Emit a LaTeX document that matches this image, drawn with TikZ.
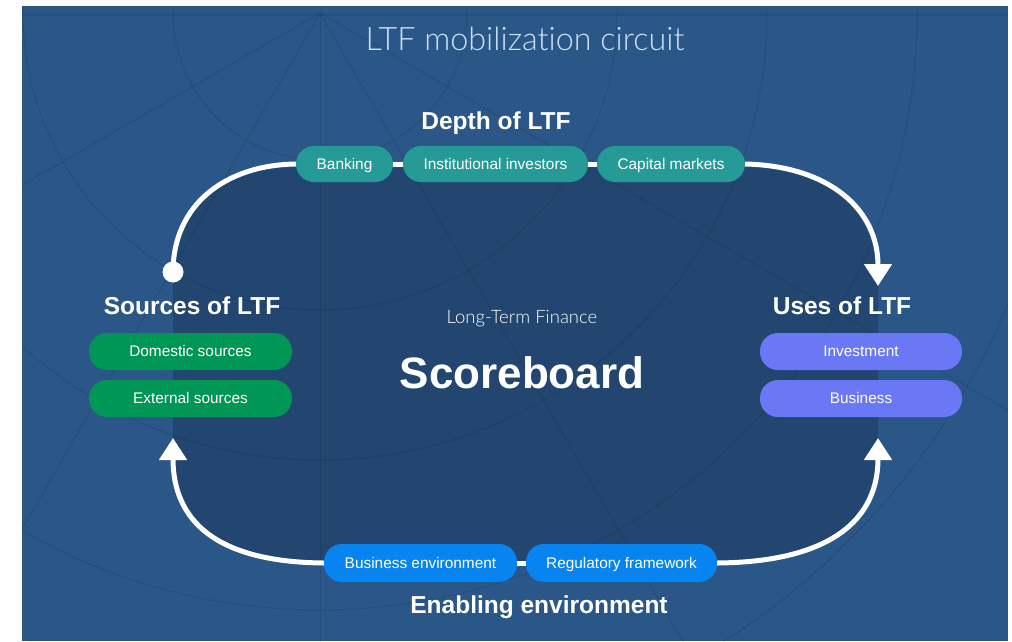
\documentclass[tikz,border=0pt]{standalone}
\usepackage{fontspec}
\setmainfont{Liberation Sans}
\def\titlesize{31.2}\def\ltfsize{17.2}
\IfFontExistsTF{Lato Light}{\newfontfamily\thinfont{Lato Light}[Ligatures=NoCommon]\def\titlesize{32.3}\def\ltfsize{18.5}}{%
  \IfFontExistsTF{Poppins Light}{\newfontfamily\thinfont{Poppins Light}\def\titlesize{28.8}\def\ltfsize{15.7}}{%
    \newfontfamily\thinfont{Liberation Sans}}}
\usetikzlibrary{arrows.meta}
\definecolor{bgblue}{RGB}{42,86,136}
\definecolor{innerblue}{RGB}{34,70,112}
\definecolor{tealc}{RGB}{38,154,150}
\definecolor{greenc}{RGB}{0,150,85}
\definecolor{purplec}{RGB}{106,120,245}
\definecolor{bluec}{RGB}{8,132,240}
\definecolor{titlec}{RGB}{205,226,245}
\tikzset{
  pill/.style={rounded corners=18pt, minimum height=36pt, inner sep=0pt, text=white,
    font=\fontsize{15.4}{15.4}\selectfont, text height=10.8pt, text depth=0pt, anchor=center},
  tealpill/.style={pill, fill=tealc},
  greenpill/.style={pill, fill=greenc, minimum width=203pt, minimum height=37pt},
  purplepill/.style={pill, fill=purplec, minimum width=202pt, minimum height=37pt},
  bluepill/.style={pill, fill=bluec, minimum height=38pt},
  head/.style={text=white, font=\bfseries\fontsize{24.5}{24.5}\selectfont, anchor=base, inner sep=0pt},
  loopline/.style={white, line width=5pt},
  tip/.style={-{Triangle[width=27pt,length=22pt]}},
  gridline/.style={black, opacity=0.09, line width=1pt}
}
\begin{document}
\begin{tikzpicture}[x=1pt,y=-1pt]
\useasboundingbox (0,0) rectangle (1012,641);
\fill[white] (0,0) rectangle (1012,641);
\fill[bgblue] (22,6) rectangle (1008,641);
% inner dark region
\fill[innerblue] (173,461) -- (173,272) .. controls (173,205) and (225,165) .. (296,165)
  -- (745,165) .. controls (830,166) and (878,210) .. (878,285) -- (878,438)
  .. controls (878,520) and (830,562) .. (717,563) -- (324,563)
  .. controls (215,562) and (173,520) .. (173,438) -- cycle;
% background grid
\begin{scope}
\clip (22,6) rectangle (1008,641);
\coordinate (C) at (320,13);
\foreach \r in {147,297,447,597,747} \draw[gridline] (C) circle[radius=\r pt];
\foreach \a in {0,30,60,90,120,150,180} \draw[gridline] (C) -- ++(\a:1300);
\draw[gridline] (22,15) -- (1008,15);
\end{scope}
% title
\node[text=titlec, font=\thinfont\fontsize{\titlesize}{\titlesize}\selectfont, anchor=base, inner sep=0pt] (title) at (525,50) {LTF mobilization circuit};
% headers
\node[head] (depth) at (496,129) {Depth of LTF};
\node[head] (sources) at (192,314) {Sources of LTF};
\node[head] (uses) at (842,314) {Uses of LTF};
\node[head] (enabling) at (539,613) {Enabling environment};
% center
\node[text=white, font=\thinfont\fontsize{\ltfsize}{\ltfsize}\selectfont, anchor=base, inner sep=0pt] (ltf) at (522,323) {Long-Term Finance};
\node[text=white, font=\bfseries\fontsize{44}{44}\selectfont, anchor=base, inner sep=0pt] (score) at (522,388) {Scoreboard};
% pills
\node[tealpill, minimum width=97pt] (bank) at (344.5,164) {Banking};
\node[tealpill, minimum width=185pt] (inst) at (495.5,164) {Institutional investors};
\node[tealpill, minimum width=148pt] (cap) at (671,164) {Capital markets};
\node[greenpill] (dom) at (190.5,351.5) {Domestic sources};
\node[greenpill] (ext) at (190.5,398.5) {External sources};
\node[purplepill] (inv) at (861,351.5) {Investment};
\node[purplepill] (bus) at (861,398.5) {Business};
\node[bluepill, minimum width=193pt] (benv) at (420.5,563) {Business environment};
\node[bluepill, minimum width=191pt] (reg) at (621.5,563) {Regulatory framework};
% loop
\coordinate (S) at (173,272);
\coordinate (T1) at (878,286);
\coordinate (T2) at (878,438);
\coordinate (T3) at (173,438);
\draw[loopline] (S) .. controls (173,205) and (225,165) .. (bank.west);
\draw[loopline] (bank.east) -- (inst.west);
\draw[loopline] (inst.east) -- (cap.west);
\draw[loopline, tip] (cap.east) .. controls (830,166) and (878,210) .. (T1);
\draw[loopline] (benv.east) -- (reg.west);
\draw[loopline, tip] (reg.east) .. controls (830,562) and (878,520) .. (T2);
\draw[loopline, tip] (benv.west) .. controls (215,562) and (173,520) .. (T3);
\fill[white] (S) circle[radius=10.5pt];
\end{tikzpicture}
\end{document}
